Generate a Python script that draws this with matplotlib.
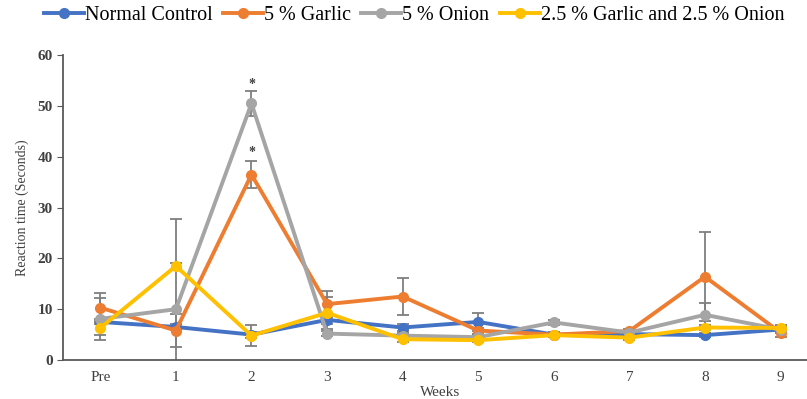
import matplotlib
matplotlib.use('Agg')
import matplotlib.pyplot as plt

weeks = ['Pre', '1', '2', '3', '4', '5', '6', '7', '8', '9']

control = [7.5, 6.5, 5.0, 7.9, 6.4, 7.5, 5.0, 5.1, 4.9, 6.0]
garlic = [10.3, 5.8, 36.5, 11.0, 12.5, 5.8, 5.0, 5.7, 16.4, 5.4]
onion = [8.1, 10.0, 50.5, 5.2, 4.8, 4.5, 7.4, 5.4, 8.9, 6.0]
mix = [6.3, 18.5, 4.8, 9.3, 4.1, 3.9, 4.9, 4.4, 6.4, 6.3]

control_err = [0.5, 0.6, 0.6, 0.8, 0.6, 1.7, 0.4, 0.4, 0.4, 0.6]
garlic_err = [2.9, 3.2, 2.7, 2.5, 3.6, 0.6, 0.5, 0.5, 8.7, 0.8]
onion_err = [4.2, 17.8, 2.5, 0.5, 0.5, 0.4, 0.5, 0.4, 2.4, 0.6]
mix_err = [1.4, 0.5, 2.0, 3.1, 0.6, 0.4, 0.4, 0.4, 0.5, 0.6]

labels = ['Normal Control', '5 % Garlic', '5 % Onion', '2.5 % Garlic and 2.5 % Onion']
colors = ['#4472C4', '#ED7D31', '#A5A5A5', '#FFC000']

# significance marks (week index, height)
stars = [(2, 54.3), (2, 40.8)]

plt.rcParams['font.family'] = ['Liberation Serif', 'DejaVu Serif']

fig = plt.figure(figsize=(8.07, 3.99), dpi=100)
ax = fig.add_axes([0.0775, 0.0977, 0.9365, 0.764])

x = list(range(len(weeks)))
series = [control, garlic, onion, mix]
errs = [control_err, garlic_err, onion_err, mix_err]

for vals, err in zip(series, errs):
    ax.errorbar(x, vals, yerr=err, fmt='none', ecolor='#7F7F7F',
                elinewidth=1.3, capsize=4, capthick=1.3, zorder=2)

for vals, lab, col in zip(series, labels, colors):
    ax.plot(x, vals, color=col, linewidth=2.8, marker='o', markersize=7,
            label=lab, zorder=3)

for xi, yi in stars:
    ax.text(xi, yi, '*', ha='center', va='center', fontsize=10,
            color='#404040', fontweight='bold', zorder=4)

ax.set_xlim(-0.5, 9.5)
ax.set_ylim(0, 60)
ax.set_yticks(range(0, 61, 10))
ax.set_xticks(x)
ax.set_xticklabels(weeks)

for s in ['top', 'right']:
    ax.spines[s].set_visible(False)
for s in ['left', 'bottom']:
    ax.spines[s].set_color('#595959')
    ax.spines[s].set_linewidth(1.3)

ax.tick_params(axis='y', direction='out', length=4, color='#595959',
               labelsize=11, labelcolor='#404040', pad=3)
ax.tick_params(axis='x', length=0, labelsize=11, labelcolor='#404040', pad=8)
for t in ax.get_yticklabels():
    t.set_fontweight('bold')

ax.set_ylabel('Reaction time (Seconds)', fontsize=10, color='#404040', labelpad=6)
ax.set_xlabel('Weeks', fontsize=11, color='#404040', labelpad=1)

fig.legend(loc='center', bbox_to_anchor=(0.513, 0.962), ncol=4,
           frameon=False, fontsize=14.5, handlelength=2.0, handletextpad=0.05,
           columnspacing=0.5, borderaxespad=0.0)

fig.savefig('out.png', dpi=100)
